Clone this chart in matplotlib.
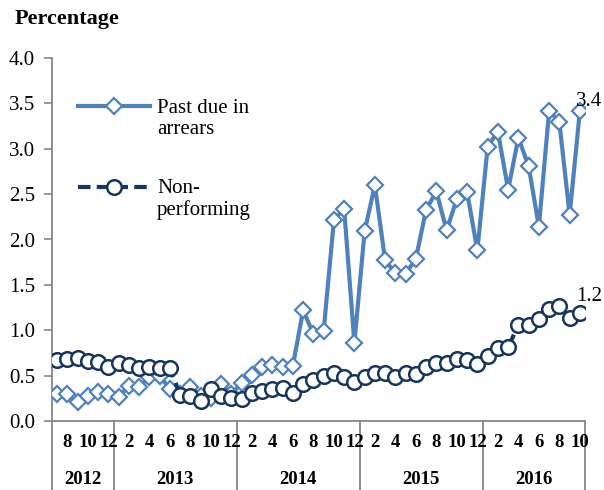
import matplotlib
matplotlib.use("Agg")
import matplotlib.pyplot as plt
import numpy as np

plt.rcParams['font.family'] = ['Liberation Serif', 'DejaVu Serif']

# monthly data, Jul 2012 - Oct 2016
years = [2012, 2013, 2014, 2015, 2016]
months_per_year = [6, 12, 12, 12, 10]
first_month = [7, 1, 1, 1, 1]

past_due = [0.30, 0.30, 0.21, 0.27, 0.32, 0.30,
            0.26, 0.39, 0.38, 0.48, 0.50, 0.35, 0.30, 0.37, 0.28, 0.25, 0.41, 0.30,
            0.42, 0.51, 0.60, 0.62, 0.59, 0.61, 1.22, 0.96, 0.99, 2.21, 2.34, 0.86,
            2.09, 2.60, 1.77, 1.63, 1.62, 1.79, 2.33, 2.53, 2.10, 2.45, 2.52, 1.88,
            3.02, 3.19, 2.55, 3.12, 2.81, 2.14, 3.42, 3.29, 2.27, 3.42]
non_perf = [0.67, 0.68, 0.69, 0.66, 0.65, 0.60,
            0.64, 0.62, 0.58, 0.59, 0.58, 0.58, 0.29, 0.27, 0.22, 0.35, 0.27, 0.25,
            0.24, 0.31, 0.33, 0.35, 0.36, 0.31, 0.41, 0.45, 0.50, 0.53, 0.48, 0.43,
            0.48, 0.53, 0.53, 0.48, 0.53, 0.52, 0.60, 0.64, 0.64, 0.68, 0.67, 0.63,
            0.72, 0.80, 0.81, 1.06, 1.06, 1.12, 1.23, 1.27, 1.14, 1.19]

blue = '#4F81BD'
navy = '#17365D'
grey = '#868686'

months = []
for fm, n in zip(first_month, months_per_year):
    months += list(range(fm, fm + n))
x = np.arange(len(months))

fig = plt.figure(figsize=(6.04, 4.9), dpi=100)
ax = fig.add_axes([52/604, 69/490, 533/604, 363/490])

ax.plot(x, past_due, color=blue, lw=3, marker='D', ms=8, mfc='white',
        mec=blue, mew=1.6, zorder=3)
ax.plot(x, non_perf, color=navy, lw=3, ls=(0, (3, 1.5)), marker='o', ms=10.5,
        mfc='white', mec=navy, mew=1.8, zorder=4)

ax.set_xlim(-0.5, len(months) - 0.5)
ax.set_ylim(0, 4)
ax.set_yticks(np.arange(0, 4.01, 0.5))
ax.set_yticklabels([f'{v:.1f}' for v in np.arange(0, 4.01, 0.5)], fontsize=15)
ax.tick_params(axis='y', direction='out', length=5.8, color=grey, width=1.2, pad=6.5)
ax.set_xticks([])
for s in ['top', 'right']:
    ax.spines[s].set_visible(False)
for s in ['left', 'bottom']:
    ax.spines[s].set_color(grey)
    ax.spines[s].set_linewidth(1.3)

# category axis: month labels and year groups
trans = ax.get_xaxis_transform()
for i, m in enumerate(months):
    if m % 2 == 0:
        ax.text(i, -0.06, str(m), transform=trans, ha='center', va='center',
                fontsize=13.5, fontweight='bold')
edges = np.cumsum([0] + months_per_year) - 0.5
for e in edges:
    ax.plot([e, e], [0, -0.2], transform=trans, color=grey, lw=1.3, clip_on=False)
for y0, a, b in zip(years, edges[:-1], edges[1:]):
    ax.text((a + b) / 2, -0.16, str(y0), transform=trans, ha='center',
            va='center', fontsize=13.5, fontweight='bold')

# end labels
ax.annotate(f'{past_due[-1]:.1f}', (x[-1], past_due[-1]), xytext=(-3, 3),
            textcoords='offset points', ha='left', va='baseline', fontsize=15)
ax.annotate(f'{non_perf[-1]:.1f}', (x[-1], non_perf[-1]), xytext=(-3, 9),
            textcoords='offset points', ha='left', va='baseline', fontsize=15)

# legend drawn by hand
ax.plot([0.049, 0.184], [0.868, 0.868], transform=ax.transAxes, color=blue, lw=3,
        clip_on=False)
ax.plot([0.116], [0.868], transform=ax.transAxes, marker='D', ms=8, mfc='white',
        mec=blue, mew=1.6)
ax.text(0.197, 0.888, 'Past due in\narrears', transform=ax.transAxes, ha='left',
        va='top', fontsize=15)
ax.plot([0.049, 0.184], [0.645, 0.645], transform=ax.transAxes, color=navy, lw=3,
        ls=(0, (3, 1.5)), clip_on=False)
ax.plot([0.116], [0.645], transform=ax.transAxes, marker='o', ms=10.5, mfc='white',
        mec=navy, mew=1.8)
ax.text(0.197, 0.668, 'Non-\nperforming', transform=ax.transAxes, ha='left',
        va='top', fontsize=15)

fig.text(15/604, 1 - 19/490, 'Percentage', ha='left', va='center', fontsize=16,
         fontweight='bold')

fig.savefig('out.png', dpi=100)
